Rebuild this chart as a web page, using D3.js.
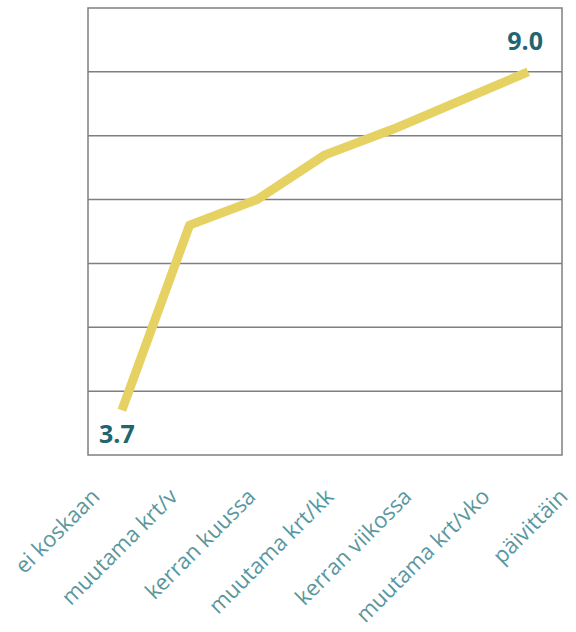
<!DOCTYPE html>
<html>
<head>
<meta charset="utf-8">
<script src="https://cdn.jsdelivr.net/npm/d3@7"></script>
<style>
  body { margin: 0; background: #fff; }
  svg { display: block; }
  .cat-label { font-family: 'Open Sans', sans-serif; font-size: 22px; fill: #5a979d; }
  .value-label { font-family: 'Open Sans', sans-serif; font-size: 25px; font-weight: bold; fill: #1f6672; }
</style>
</head>
<body>
<div id="chart"></div>
<script>
// frequency categories along the x axis
const categories = ['ei koskaan', 'muutama krt/v', 'kerran kuussa', 'muutama krt/kk',
  'kerran viikossa', 'muutama krt/vko', 'päivittäin'];
// mean score per category
const values = [3.7, 6.6, 7.0, 7.7, 8.1, 8.55, 9.0];
// only the two end points carry a label
const labelled = [0, 6];

const width = 576;
const height = 632;
const plot = { left: 88, right: 562, top: 8, bottom: 455 };

const svg = d3.select('#chart').append('svg')
  .attr('width', width)
  .attr('height', height);

const x = d3.scalePoint()
  .domain(categories)
  .range([plot.left, plot.right])
  .padding(0.5);

// the tick labels sit on a wider spacing than the points in the original
const xLabel = d3.scalePoint()
  .domain(categories)
  .range([101, 569]);

const y = d3.scaleLinear()
  .domain([3, 10])
  .range([plot.bottom, plot.top]);

// gridlines
svg.append('g')
  .selectAll('line')
  .data(y.ticks(7).filter((t) => t > 3 && t < 10))
  .join('line')
  .attr('x1', plot.left)
  .attr('x2', plot.right)
  .attr('y1', (d) => y(d))
  .attr('y2', (d) => y(d))
  .style('stroke', '#7f7f7f')
  .style('stroke-width', 1.5);

// frame
svg.append('rect')
  .attr('x', plot.left)
  .attr('y', plot.top)
  .attr('width', plot.right - plot.left)
  .attr('height', plot.bottom - plot.top)
  .style('fill', 'none')
  .style('stroke', '#7f7f7f')
  .style('stroke-width', 1.5);

const line = d3.line()
  .x((d, i) => x(categories[i]))
  .y((d) => y(d));

svg.append('path')
  .datum(values)
  .attr('d', line)
  .style('fill', 'none')
  .style('stroke', '#e6d163')
  .style('stroke-width', 9)
  .style('stroke-linejoin', 'round');

// value labels at both ends
svg.append('g')
  .selectAll('text')
  .data(labelled)
  .join('text')
  .attr('class', 'value-label')
  .attr('text-anchor', 'middle')
  .attr('x', (i) => x(categories[i]) + (i === 0 ? -5 : -3))
  .attr('y', (i) => y(values[i]) + (i === 0 ? 33 : -22))
  .text((i) => values[i].toFixed(1));

// rotated category labels
svg.append('g')
  .selectAll('text')
  .data(categories)
  .join('text')
  .attr('class', 'cat-label')
  .attr('text-anchor', 'end')
  .attr('transform', (d) => `translate(${xLabel(d)},498) rotate(-45)`)
  .text((d) => d);
</script>
</body>
</html>
